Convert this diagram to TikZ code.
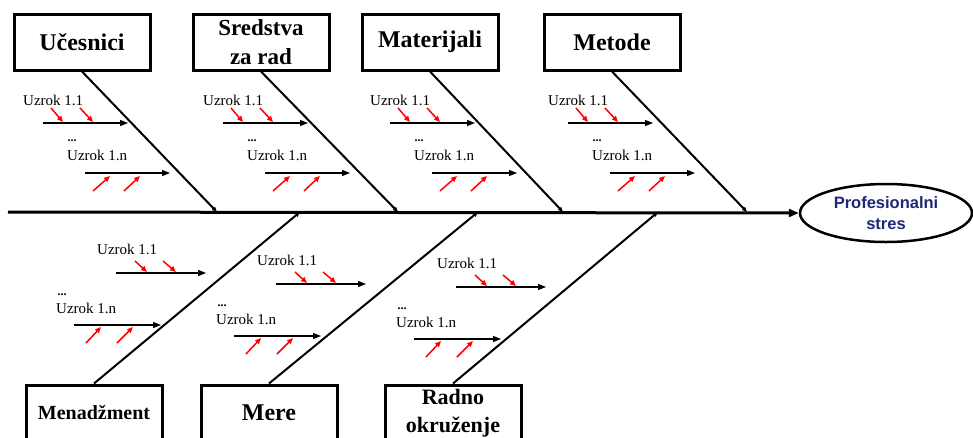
\documentclass[tikz,border=0pt]{standalone}
\usepackage{fontspec}
\setmainfont{Liberation Serif}
\newfontfamily\arialfont{Liberation Sans}
\usetikzlibrary{arrows.meta,shapes.geometric}
\definecolor{stresblue}{RGB}{30,40,120}
\tikzset{
  catbox/.style={draw, line width=3pt, minimum width=136pt, minimum height=56pt, inner sep=0pt,
    align=center, font=\fontsize{24}{30}\selectfont\bfseries},
  spine/.style={line width=3pt, -{Triangle[length=10pt,width=8pt]}},
  bone/.style={line width=2pt, -{Triangle[length=5pt,width=4pt]}},
  sub/.style={line width=1.2pt, -{Triangle[length=8pt,width=6pt]}},
  cause/.style={red, line width=1.5pt, -{Triangle[length=6pt,width=5pt]}},
  ctext/.style={anchor=west, inner sep=0pt, font=\fontsize{15}{18}\selectfont},
  dtext/.style={inner sep=0pt, font=\fontsize{12}{14}\selectfont\bfseries},
}
\newcommand{\topgroup}[2]{%
  \begin{scope}[xshift=#1pt]
    \node[ctext] (ta#2) at (23,100) {Uzrok 1.1};
    \draw[sub] (43,123) -- (128,123);
    \draw[cause] (51,108) -- (63,122);
    \draw[cause] (80,108) -- (93,122);
    \node[dtext] (td#2) at (72,141) {...};
    \node[ctext] (tb#2) at (67,155) {Uzrok 1.n};
    \draw[sub] (85,173) -- (170,173);
    \draw[cause] (93,191) -- (110,176);
    \draw[cause] (124,191) -- (140,176);
  \end{scope}}
\newcommand{\botgroup}[3]{%
  \begin{scope}[xshift=#1pt, yshift=-#2pt]
    \node[ctext] (ba#3) at (97,249) {Uzrok 1.1};
    \draw[sub] (116,273) -- (206,273);
    \draw[cause] (135,261) -- (147,272);
    \draw[cause] (163,261) -- (176,272);
    \node[dtext] (bd#3) at (62,295) {...};
    \node[ctext] (bb#3) at (56,308) {Uzrok 1.n};
    \draw[sub] (74,325) -- (161,325);
    \draw[cause] (86,343) -- (101,327);
    \draw[cause] (117,343) -- (133,327);
  \end{scope}}
\begin{document}
\begin{tikzpicture}[x=1pt, y=-1pt]
\useasboundingbox (0,0) rectangle (973,437);
\clip (0,0) rectangle (973,437);
\fill[white] (0,0) rectangle (973,437);
% category boxes
\node[catbox] (uc) at (82,42) {U\v{c}esnici};
\node[catbox, font=\fontsize{23}{29}\selectfont\bfseries] (sr) at (261,42) {Sredstva\\za rad};
\node[catbox] (ma) at (430,42) {Materijali};
\node[catbox] (me) at (612,42) {Metode};
\node[catbox, font=\fontsize{20}{24}\selectfont\bfseries] (mn) at (94,413) {Menad\v{z}ment};
\node[catbox] (mr) at (269,413) {Mere};
\node[catbox, font=\fontsize{22}{28}\selectfont\bfseries] (ro) at (453,413) {Radno\\okru\v{z}enje};
% effect
\node[draw, ellipse, line width=2.5pt, minimum width=172pt, minimum height=58pt, inner sep=0pt,
  align=center, text=stresblue, font=\arialfont\fontsize{16.5}{21}\selectfont\bfseries] (ps) at (886,213) {Profesionalni\\stres};
% spine
\coordinate (s0) at (8,212);
\draw[spine] (s0) -- (ps.west);
% bone ends on spine
\coordinate (j1) at (217,212);
\coordinate (j2) at (398,212);
\coordinate (j3) at (563,212);
\coordinate (j4) at (747,212);
\coordinate (k1) at (300,212);
\coordinate (k2) at (478,212);
\coordinate (k3) at (658,212);
\draw[bone] (uc.south) -- (j1);
\draw[bone] (sr.south) -- (j2);
\draw[bone] (ma.south) -- (j3);
\draw[bone] (me.south) -- (j4);
\draw[bone] (mn.north) -- (k1);
\draw[bone] (mr.north) -- (k2);
\draw[bone] (ro.north) -- (k3);
% causes
\topgroup{0}{1}
\topgroup{180}{2}
\topgroup{347}{3}
\topgroup{525}{4}
\botgroup{0}{0}{1}
\botgroup{160}{11}{2}
\botgroup{340}{14}{3}
\end{tikzpicture}
\end{document}
